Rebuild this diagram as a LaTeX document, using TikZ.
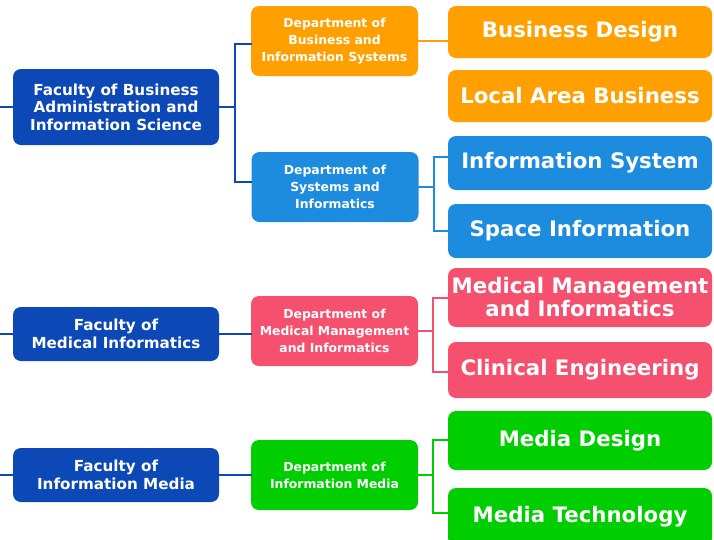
\documentclass[tikz,border=0pt]{standalone}
\usepackage{fontspec}
\setmainfont{DejaVu Sans}
\usetikzlibrary{calc}

\definecolor{facblue}{RGB}{12,72,182}
\definecolor{deporange}{RGB}{255,160,0}
\definecolor{depblue}{RGB}{30,140,222}
\definecolor{deppink}{RGB}{245,80,110}
\definecolor{depgreen}{RGB}{0,206,0}

\begin{document}
\begin{tikzpicture}[x=1pt, y=-1pt,
    box/.style={rounded corners=8pt, text=white, align=center, inner sep=0pt, font=\bfseries},
    faculty/.style={box, fill=facblue, minimum width=206pt, font=\bfseries\fontsize{15.2}{17.5}\selectfont},
    dept/.style={box, minimum width=167pt, minimum height=70pt, font=\bfseries\fontsize{12.4}{17}\selectfont},
    course/.style={box, minimum width=264pt, font=\bfseries\fontsize{21.3}{23}\selectfont},
    wire/.style={line width=2pt, line cap=rect}]

    \useasboundingbox (0,0) rectangle (714,539);

    % faculties
    \node[faculty, minimum height=76pt] (Fac1) at (116,107) {Faculty of Business\\Administration and\\Information Science};
    \node[faculty, minimum height=54pt] (Fac2) at (116,334) {Faculty of\\Medical Informatics};
    \node[faculty, minimum height=54pt] (Fac3) at (116,475) {Faculty of\\Information Media};

    % departments
    \node[dept, fill=deporange] (Dep1) at (334.5,41) {Department of\\Business and\\Information Systems};
    \node[dept, fill=depblue] (Dep2) at (335,187) {Department of\\Systems and\\Informatics};
    \node[dept, fill=deppink] (Dep3) at (334.5,331) {Department of\\Medical Management\\and Informatics};
    \node[dept, fill=depgreen] (Dep4) at (334.5,475) {Department of\\Information Media};

    % courses
    \node[course, fill=deporange, minimum height=52pt] (Crs1) at (580,32) {Business Design};
    \node[course, fill=deporange, minimum height=52pt] (Crs2) at (580,96) {Local Area Business};
    \node[course, fill=depblue, minimum height=54pt] (Crs3) at (580,163) {Information System};
    \node[course, fill=depblue, minimum height=54pt] (Crs4) at (580,231) {Space Information};
    \node[course, fill=deppink, minimum height=59pt] (Crs5) at (580,297.5) {Medical Management\\and Informatics};
    \node[course, fill=deppink, minimum height=56pt] (Crs6) at (580,370) {Clinical Engineering};
    \node[course, fill=depgreen, minimum height=59pt] (Crs7) at (580,440.5) {Media Design};
    \node[course, fill=depgreen, minimum height=58pt] (Crs8) at (580,517) {Media Technology};

    % stubs from the left edge
    \coordinate (In1) at (0,107);
    \coordinate (In2) at (0,334);
    \coordinate (In3) at (0,475);
    \draw[wire, facblue] (In1) -- (Fac1.west);
    \draw[wire, facblue] (In2) -- (Fac2.west);
    \draw[wire, facblue] (In3) -- (Fac3.west);

    \draw[wire, facblue] ($(Dep1.west)+(0,3)$) -| ($(Fac1.east)+(16,0)$) |- ($(Dep2.west)+(0,-5)$);
    \draw[wire, facblue] (Fac1.east) -- ++(16,0);
    \draw[wire, facblue] (Fac2.east) -- (Fac2.east -| Dep3.west);
    \draw[wire, facblue] (Fac3.east) -- (Dep4.west);

    \draw[wire, deporange] (Dep1.east) -- (Dep1.east -| Crs1.west);

    \draw[wire, depblue] ($(Crs3.west)+(0,-6)$) -| ($(Dep2.east)+(15,0)$) |- (Crs4.west);
    \draw[wire, depblue] (Dep2.east) -- ++(15,0);

    \draw[wire, deppink] (Crs5.west) -| ($(Dep3.east)+(15,0)$) |- ($(Crs6.west)+(0,2)$);
    \draw[wire, deppink] (Dep3.east) -- ++(15,0);

    \draw[wire, depgreen] ($(Crs7.west)+(0,-1)$) -| ($(Dep4.east)+(15,0)$) |- ($(Crs8.west)+(0,-4)$);
    \draw[wire, depgreen] (Dep4.east) -- ++(15,0);

\end{tikzpicture}
\end{document}
